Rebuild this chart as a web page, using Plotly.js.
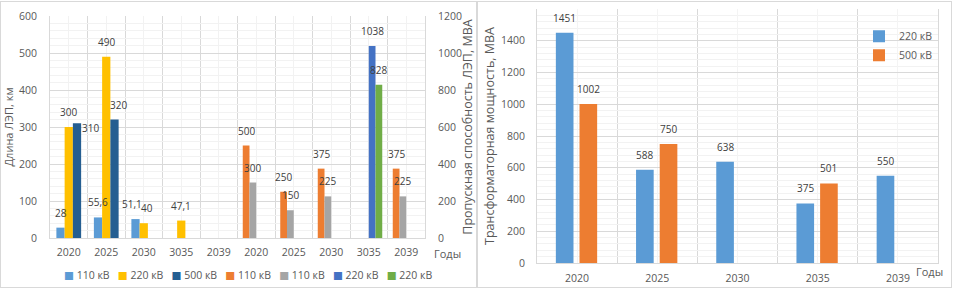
<!DOCTYPE html>
<html><head><meta charset="utf-8">
<script src="https://cdn.plot.ly/plotly-3.0.1.min.js"></script>
<style>
html,body{margin:0;padding:0;background:#fff;width:955px;height:290px;overflow:hidden}
#c1,#c2{position:absolute;top:1px;height:285px;border:1px solid #D9D9D9}
#c1{left:0;width:475px}
#c2{left:477px;width:473px}
</style></head><body>
<div id="c1"></div><div id="c2"></div>
<script>
// ---------- Left chart data ----------
const leftLabels = ['2020','2025','2030','3035','2039','2020','2025','2030','3035','2039'];
const len110 = [28, 55.6, 51.1, null, null, null, null, null, null, null];
const len220 = [300, 490, 40, 47.1, null, null, null, null, null, null];
const len500 = [310, 320, null, null, null, null, null, null, null, null];
const cap110a = [null, null, null, null, null, 500, 250, 375, null, 375];
const cap110b = [null, null, null, null, null, 300, 150, 225, null, 225];
const cap220a = [null, null, null, null, null, null, null, null, 1038, null];
const cap220b = [null, null, null, null, null, null, null, null, 828, null];
const leftNames = ['110 кВ', '220 кВ', '500 кВ', '110 кВ', '110 кВ', '220 кВ', '220 кВ'];

// ---------- Right chart data ----------
const rightYears = ['2020', '2025', '2030', '2035', '2039'];
const tr220 = [1451, 588, 638, 375, 550];
const tr500 = [1002, 750, null, 501, null];
const rightNames = ['220 кВ', '500 кВ'];

// ---------- styles ----------
const leftColors = ['#5B9BD5', '#FFC000', '#255E91', '#ED7D31', '#A5A5A5', '#4472C4', '#70AD47'];
const rightColors = ['#5B9BD5', '#ED7D31'];
const FAM = 'Open Sans, DejaVu Sans, sans-serif';
const TXT = '#595959';
const LBL = '#404040';

function fmt(v) { return String(v).replace('.', ','); }
const xi = leftLabels.map((_, i) => i);
const xr = rightYears.map((_, i) => i);

function bar(xs, y, name, color, yaxis, width, offset, showleg) {
  return {
    type: 'bar', x: xs, y: y, name: name, yaxis: yaxis,
    width: width, offset: offset,
    marker: { color: color, line: { width: 0 } },
    hoverinfo: 'skip', showlegend: !!showleg
  };
}
// data labels (drawn above all bars) placed at each bar's top through the axes
function labelAnns(xs, y, yref, width, offset, nudge, side) {
  const out = [];
  y.forEach((v, i) => {
    if (v == null) return;
    const a = {
      xref: 'x', yref: yref, x: xs[i] + offset + width / 2, y: v, text: fmt(v),
      showarrow: false, xanchor: 'center', yanchor: 'bottom', yshift: 7,
      xshift: (nudge && nudge[i]) || 0, borderpad: 0,
      font: { family: FAM, size: 10, color: LBL }
    };
    if (side && side[i]) { a.xanchor = 'left'; a.yanchor = 'middle'; a.xshift = 4; a.yshift = -5; }
    out.push(a);
  });
  return out;
}

// bar geometry and label nudges (style, not data)
const geoL = [
  [0.22, -0.33], [0.22, -0.11], [0.22, 0.11],
  [0.18, -0.36], [0.18, -0.18], [0.18, 0], [0.18, 0.18]
];
const nudgeL = [{ 2: -4 }, { 2: 3 }, { 1: 4 }, null, null, null, null];
const sideL = [null, null, { 0: true }, null, null, null, null];
const seriesL = [len110, len220, len500, cap110a, cap110b, cap220a, cap220b];
const axesL = ['y', 'y', 'y', 'y2', 'y2', 'y2', 'y2'];

const leftData = seriesL.map((s, k) => bar(xi, s, leftNames[k], leftColors[k], axesL[k], geoL[k][0], geoL[k][1]));
let leftLabelAnns = [];
seriesL.forEach((s, k) => { leftLabelAnns = leftLabelAnns.concat(labelAnns(xi, s, axesL[k], geoL[k][0], geoL[k][1], nudgeL[k], sideL[k])); });

const legendText = leftNames.map((n, i) =>
  '<span style="color:' + leftColors[i] + '">■</span> ' + n).join('\u00A0\u00A0\u00A0');

const leftLayout = {
  width: 475, height: 285,
  margin: { l: 49, r: 51, t: 14, b: 49 },
  font: { family: FAM, size: 10.5, color: TXT },
  separators: ', ',
  paper_bgcolor: '#fff', plot_bgcolor: '#fff',
  showlegend: false, barmode: 'overlay', hovermode: false,
  xaxis: {
    type: 'linear', range: [-0.5, 9.5], tickmode: 'array', tickvals: xi, ticktext: leftLabels,
    showgrid: true, gridcolor: '#F2F2F2', zeroline: false, showline: true, linecolor: '#D9D9D9',
    ticks: '', ticklabelstandoff: 4, automargin: false,
    minor: { tickmode: 'linear', tick0: 0.5, dtick: 1, showgrid: true, gridcolor: '#D9D9D9', ticks: '' }
  },
  yaxis: {
    range: [0, 600], tick0: 0, dtick: 100, gridcolor: '#D9D9D9', zeroline: false,
    showline: true, mirror: true, linecolor: '#D9D9D9', ticks: '', ticklabelstandoff: 10, automargin: false,
    minor: { dtick: 20, showgrid: true, gridcolor: '#F2F2F2' },
    title: { text: 'Длина ЛЭП, км', font: { size: 11, color: TXT }, standoff: 4 }
  },
  yaxis2: {
    range: [0, 1200], tick0: 0, dtick: 200, overlaying: 'y', side: 'right', showgrid: false,
    zeroline: false, ticks: '', ticklabelstandoff: 12, automargin: false,
    title: { text: 'Пропускная способность ЛЭП, МВА', font: { size: 12.5, color: TXT }, standoff: 2 }
  },
  annotations: leftLabelAnns.concat([
    { text: 'Годы', xref: 'paper', yref: 'paper', x: 1.059, y: -0.068, xanchor: 'center', yanchor: 'middle',
      showarrow: false, font: { size: 11, color: TXT } },
    { text: legendText, xref: 'paper', yref: 'paper', x: 0.529, y: -0.167, xanchor: 'center', yanchor: 'middle',
      showarrow: false, font: { size: 10.5, color: TXT } }
  ])
};

// ---------- Right chart ----------
const geoR = [[0.22, -0.265], [0.22, 0.03]];
const seriesR = [tr220, tr500];
const rightData = seriesR.map((s, k) => bar(xr, s, rightNames[k], rightColors[k], 'y', geoR[k][0], geoR[k][1], true));
let rightLabelAnns = [];
seriesR.forEach((s, k) => { rightLabelAnns = rightLabelAnns.concat(labelAnns(xr, s, 'y', geoR[k][0], geoR[k][1])); });

const rightLayout = {
  width: 473, height: 285,
  margin: { l: 59, r: 13, t: 7, b: 24 },
  font: { family: FAM, size: 10.5, color: TXT },
  separators: ', ',
  paper_bgcolor: '#fff', plot_bgcolor: '#fff',
  barmode: 'overlay', hovermode: false,
  showlegend: true,
  legend: { x: 1, xanchor: 'right', y: 0.95, yanchor: 'top', bgcolor: 'rgba(0,0,0,0)',
            font: { size: 10.5, color: TXT }, itemwidth: 30, orientation: 'v' },
  xaxis: {
    type: 'linear', range: [-0.5, 4.5], tickmode: 'array', tickvals: xr, ticktext: rightYears,
    showgrid: true, gridcolor: '#F4F4F4', zeroline: false, showline: true, linecolor: '#D9D9D9',
    ticks: '', ticklabelstandoff: 5, automargin: false,
    minor: { tickmode: 'linear', tick0: 0.5, dtick: 1, showgrid: true, gridcolor: '#D9D9D9', ticks: '' }
  },
  yaxis: {
    range: [0, 1600], tick0: 0, dtick: 200, gridcolor: '#D9D9D9', zeroline: false,
    showline: true, mirror: true, linecolor: '#D9D9D9', ticks: '', ticklabelstandoff: 9, automargin: false,
    minor: { dtick: 40, showgrid: true, gridcolor: '#F2F2F2' },
    title: { text: 'Трансформаторная мощность, МВА', font: { size: 12.5, color: TXT }, standoff: 3 }
  },
  annotations: rightLabelAnns.concat([
    { text: 'Годы', xref: 'paper', yref: 'paper', x: 0.98, y: -0.035, xanchor: 'center', yanchor: 'middle',
      showarrow: false, font: { size: 11, color: TXT } }
  ])
};

const cfg = { staticPlot: true, displayModeBar: false };
Plotly.newPlot('c1', leftData, leftLayout, cfg);
Plotly.newPlot('c2', rightData, rightLayout, cfg);
</script>
</body></html>
